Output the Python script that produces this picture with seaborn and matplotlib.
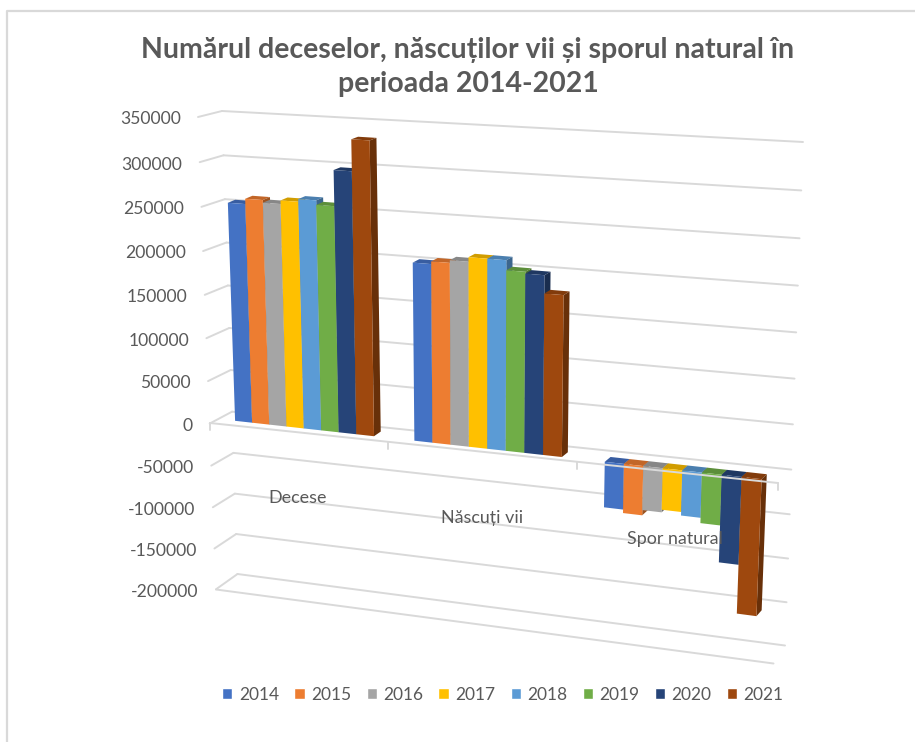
import numpy as np
import pandas as pd
import seaborn as sns
import matplotlib.pyplot as plt
from matplotlib.patches import Polygon
from matplotlib.transforms import Transform

ani = ['2014', '2015', '2016', '2017', '2018', '2019', '2020', '2021']
categorii = ['Decese', 'Născuți vii', 'Spor natural']
decese = [254000, 260000, 257000, 261000, 264000, 259000, 299000, 334000]
nascuti = [203000, 206000, 209000, 214000, 214000, 203000, 201000, 181000]
spor = [-52000, -56000, -50000, -47000, -51000, -57000, -99000, -155000]
culori = ['#4472C4', '#ED7D31', '#A5A5A5', '#FFC000', '#5B9BD5', '#70AD47', '#264478', '#9E480E']
valori_axa = [350000, 300000, 250000, 200000, 150000, 100000, 50000, 0,
              -50000, -100000, -150000, -200000]

GRI = '#D9D9D9'
TEXT = '#595959'
LATIME = 0.78


class Perspectiva(Transform):
    # proiectie (x, y) -> pixeli, din 4 colturi
    input_dims = 2
    output_dims = 2

    def __init__(self, surse, tinte):
        super().__init__()
        a = []
        b = []
        for (x, y), (px, py) in zip(surse, tinte):
            a.append([x, y, 1, 0, 0, 0, -px * x, -px * y])
            a.append([0, 0, 0, x, y, 1, -py * x, -py * y])
            b += [px, py]
        self.h = np.append(np.linalg.solve(np.array(a, float), np.array(b, float)), 1).reshape(3, 3)

    def transform_non_affine(self, values):
        v = np.column_stack([values, np.ones(len(values))]) @ self.h.T
        return v[:, :2] / v[:, 2:]


sus, jos = valori_axa[0], valori_axa[-1]
st, dr = -LATIME / 2, 2 + LATIME / 2
# planul barelor si peretele din spate
bare = Perspectiva([(st, sus), (dr, sus), (st, jos), (dr, jos)],
                   [(225, 117), (774, 150), (240.5, 584), (755, 655)])
perete = Perspectiva([(0, sus), (1, sus), (0, jos), (1, jos)],
                     [(222, 111), (803, 142), (237.5, 574), (785, 645.5)])

df = pd.DataFrame({
    'categorie': np.repeat(categorii, len(ani)),
    'an': ani * 3,
    'valoare': decese + nascuti + spor,
})

sns.set_theme(style='white')
plt.rcParams['font.family'] = ['Lato', 'Open Sans', 'DejaVu Sans']

fig = plt.figure(figsize=(9.15, 7.42), dpi=100)
ax = fig.add_axes([0, 0, 1, 1])
sns.barplot(data=df, x='categorie', y='valoare', hue='an', palette=culori,
            saturation=1, width=LATIME, errorbar=None, ax=ax)
ax.set_xlim(0, 915)
ax.set_ylim(742, 0)
ax.axis('off')

px = ax.transData


def intunecat(c, f):
    return tuple(np.array(plt.matplotlib.colors.to_rgb(c)) * f)


def adancime(p):
    # fetele din spate se muta la dreapta si in sus
    return p + np.array([7.3 - (p[0] - 230) * 0.004, -2.5 - (p[1] - 130) * 0.007])


for i, cont in enumerate(ax.containers):
    for bara in cont:
        x0, x1 = bara.get_x(), bara.get_x() + bara.get_width()
        a, b = bara.get_y(), bara.get_y() + bara.get_height()
        v_sus, v_jos = max(a, b), min(a, b)
        bara.set_transform(bare + px)
        bara.set_clip_on(False)
        bara.set_linewidth(0)
        bara.set_zorder(3.5 + i)
        c1 = bare.transform_non_affine(np.array([[x0, v_sus], [x1, v_sus], [x1, v_jos]]))
        ax.add_patch(Polygon([c1[0], c1[1], adancime(c1[1]), adancime(c1[0])], closed=True,
                             fc=intunecat(culori[i], 0.82), lw=0, zorder=3 + i, clip_on=False))
        ax.add_patch(Polygon([c1[1], c1[2], adancime(c1[2]), adancime(c1[1])], closed=True,
                             fc=intunecat(culori[i], 0.66), lw=0, zorder=3 + i, clip_on=False))

# grila, cu bucata laterala si etichetele axei
for v in valori_axa:
    ax.plot([0, 1], [v, v], color=GRI, lw=1.4, transform=perete + px, zorder=1, clip_on=False)
    spate = perete.transform_non_affine(np.array([[0, v]]))[0]
    t = (sus - v) / (sus - jos)
    fata = spate + np.array([-24 + 2.5 * t, 6 + 9.3 * t])
    ax.plot([fata[0], spate[0]], [fata[1], spate[1]], color=GRI, lw=1.4, zorder=1)
    ax.annotate(str(v), xy=fata, xycoords='data', xytext=(-12.5, -1.7),
                textcoords='offset points', ha='right', va='center',
                fontsize=12.6, color=TEXT)

# linia din fata pentru minim si axa categoriilor
ax.plot([216, 773.5], [589.5, 663.5], color=GRI, lw=1.4, zorder=1)
ax.plot([210, 778], [423, 483], color=GRI, lw=1.4, zorder=20)
for tx, ty in [(210, 423), (388, 442), (577, 462), (778, 483)]:
    ax.plot([tx, tx], [ty, ty + 7], color=GRI, lw=1.4, zorder=20)

# etichete categorii
for nume, x, y in zip(categorii, [298, 482, 675], [498, 518, 539]):
    ax.text(x, y, nume, ha='center', va='center', fontsize=12.9, color=TEXT, zorder=30)

ax.text(468, 67, 'Numărul deceselor, născuților vii și sporul natural în\nperioada 2014-2021',
        ha='center', va='center', fontsize=20.5, fontweight='bold', color=TEXT, linespacing=1.42)

# chenar
ax.plot([7, 7, 915], [742, 10.5, 10.5], color=GRI, lw=1.6, zorder=0, clip_on=False)

sns.move_legend(ax, 'center', bbox_to_anchor=(503 / 915, 1 - 694.5 / 742), ncol=8, frameon=False,
                title=None, fontsize=12.5, labelcolor=TEXT, handlelength=0.58, handleheight=0.58,
                handletextpad=0.4, columnspacing=0.86)

fig.savefig('out.png', dpi=100)
